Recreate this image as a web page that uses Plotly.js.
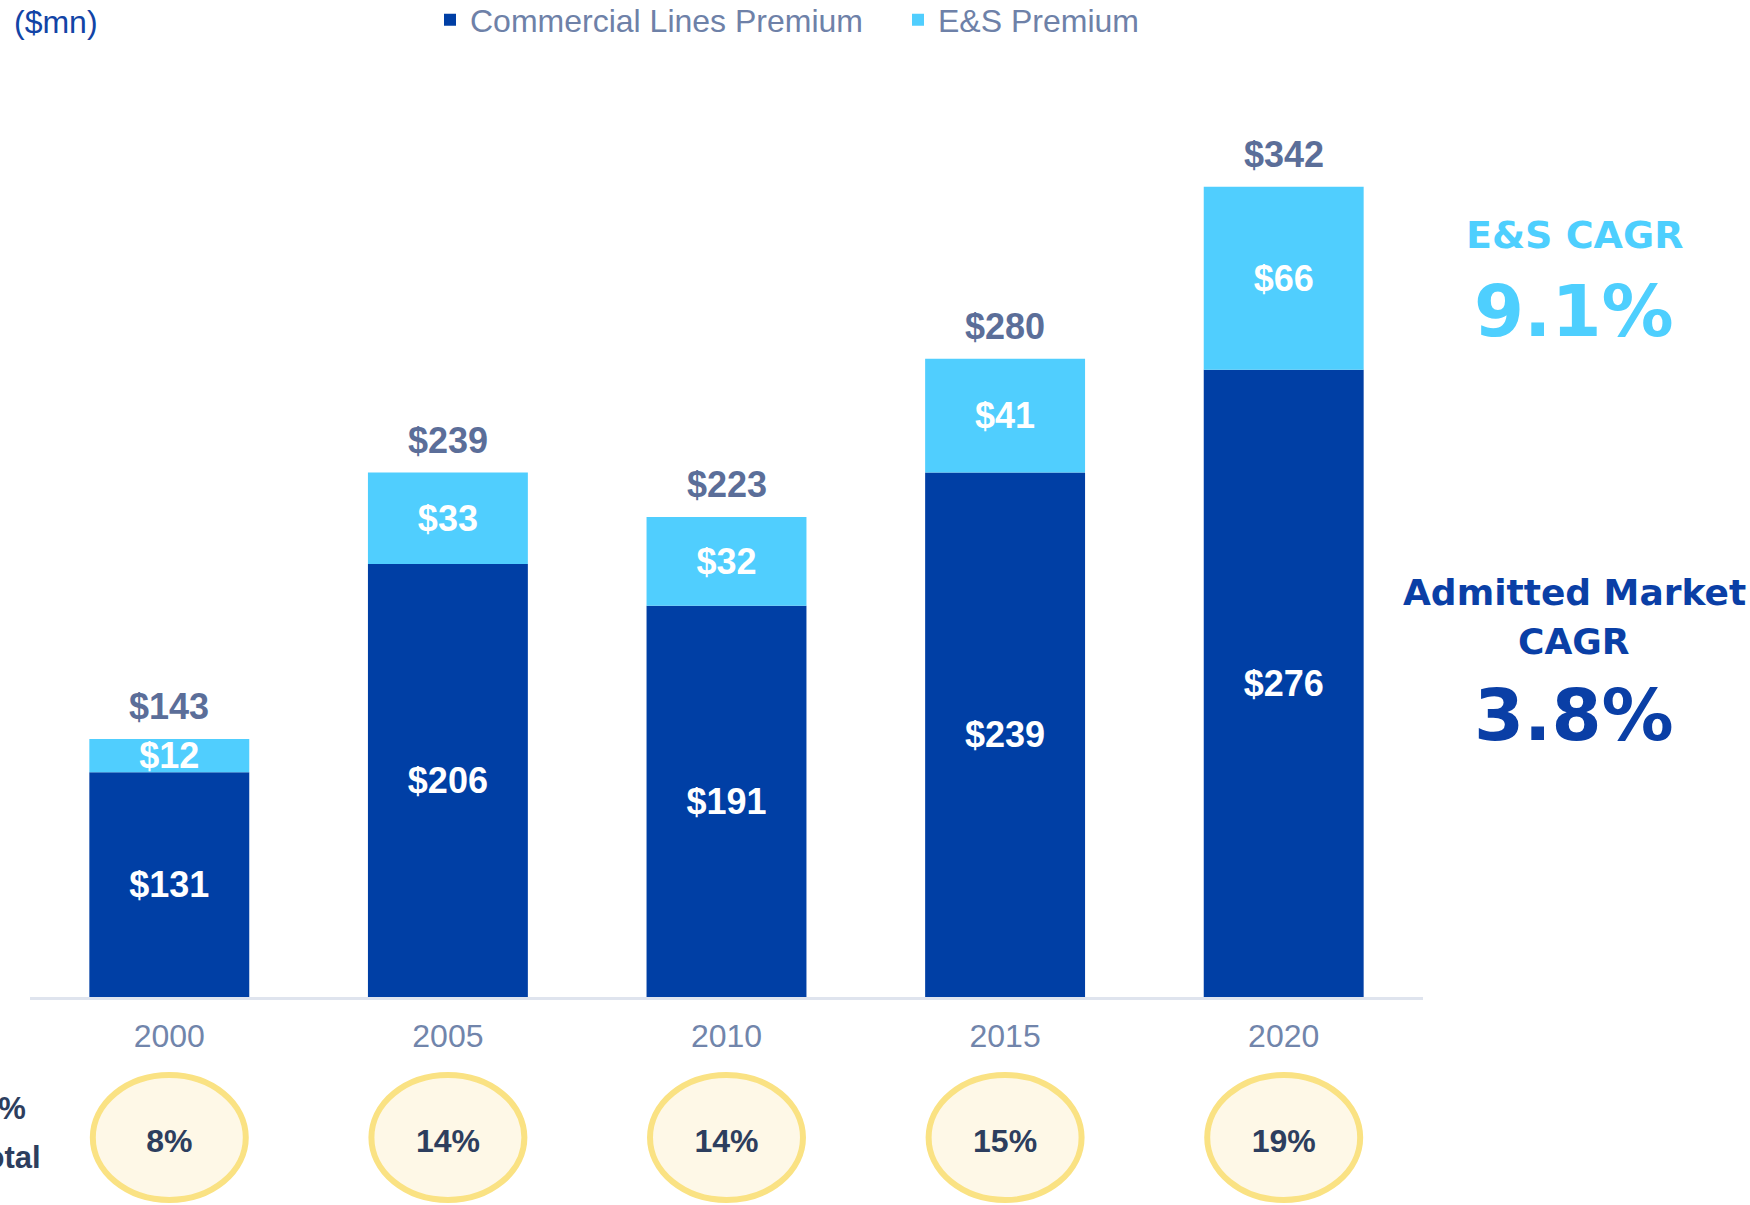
<!DOCTYPE html>
<html>
<head>
<meta charset="utf-8">
<script src="https://cdn.plot.ly/plotly-3.0.1.min.js"></script>
<style>
  html, body { margin: 0; padding: 0; background: #ffffff; }
  #chart { width: 1750px; height: 1205px; }
</style>
</head>
<body>
<div id="chart"></div>
<script>
// ---- data ----
const years = ['2000', '2005', '2010', '2015', '2020'];
const commercialPremium = [131, 206, 191, 239, 276];
const esPremium = [12, 33, 32, 41, 66];
const totalPremium = [143, 239, 223, 280, 342];
const esShareOfTotal = ['8%', '14%', '14%', '15%', '19%'];
const axisMin = 50;
const esCagr = '9.1%';
const admittedCagr = '3.8%';

// ---- styling ----
const DARK = '#003fa5';
const LIGHT = '#50cefe';
const BASE_FONT = 'Arial, "Liberation Sans", sans-serif';
const HEAVY_FONT = '"DejaVu Sans", "Arial Black", sans-serif';

// layout geometry (pixels)
const W = 1750, H = 1205;
const M = { l: 30, r: 327, t: 100, b: 208 };
const plotH = H - M.t - M.b;
const plotW = W - M.l - M.r;
const pxPerUnit = 2.775;
const yTop = axisMin + plotH / pxPerUnit;
const py = p => (H - M.b - p) / plotH;          // pixel y -> paper y
const px = p => (p - M.l) / plotW;              // pixel x -> paper x

const traces = [
  {
    type: 'bar',
    name: 'Commercial Lines Premium',
    x: years,
    y: commercialPremium.map(v => v - axisMin),
    base: axisMin,
    marker: { color: DARK, line: { width: 0 } },
    text: commercialPremium.map(v => '$' + v),
    textposition: 'inside',
    insidetextanchor: 'middle',
    constraintext: 'none',
    textfont: { family: BASE_FONT, size: 36, color: '#ffffff', weight: 700 },
    hoverinfo: 'skip'
  },
  {
    type: 'bar',
    name: 'E&S Premium',
    x: years,
    y: esPremium,
    base: commercialPremium,
    marker: { color: LIGHT, line: { width: 0 } },
    text: esPremium.map(v => '$' + v),
    textposition: 'inside',
    insidetextanchor: 'middle',
    constraintext: 'none',
    textfont: { family: BASE_FONT, size: 36, color: '#ffffff', weight: 700 },
    hoverinfo: 'skip'
  }
];

const annotations = [];
// totals above bars (x given as category index)
years.forEach((yr, i) => {
  annotations.push({
    x: i, y: totalPremium[i], xref: 'x', yref: 'y',
    text: '$' + totalPremium[i], showarrow: false,
    yanchor: 'middle', yshift: 32,
    font: { family: BASE_FONT, size: 36, color: '#5b6e99', weight: 700 }
  });
});
// unit label
annotations.push({
  xref: 'paper', yref: 'paper', x: px(12), y: py(22), xanchor: 'left', yanchor: 'middle',
  text: '($mn)', showarrow: false,
  font: { family: BASE_FONT, size: 32, color: '#1244a6' }
});
// left row label (partly off canvas, as in the reference)
annotations.push({
  xref: 'paper', yref: 'paper', x: px(28), y: py(1108), xanchor: 'right', yanchor: 'middle',
  text: 'E&S %', showarrow: false, align: 'left',
  font: { family: BASE_FONT, size: 31, color: '#2d3e5e', weight: 700 }
});
annotations.push({
  xref: 'paper', yref: 'paper', x: px(43), y: py(1157), xanchor: 'right', yanchor: 'middle',
  text: 'of Total', showarrow: false, align: 'left',
  font: { family: BASE_FONT, size: 31, color: '#2d3e5e', weight: 700 }
});
// right CAGR call-outs
const cx = px(1574);
annotations.push({
  xref: 'paper', yref: 'paper', x: cx, y: py(235), xanchor: 'center', yanchor: 'middle',
  text: 'E&S CAGR', showarrow: false,
  font: { family: HEAVY_FONT, size: 38, color: '#4ecffe', weight: 700 }
});
annotations.push({
  xref: 'paper', yref: 'paper', x: cx, y: py(311), xanchor: 'center', yanchor: 'middle',
  text: esCagr, showarrow: false,
  font: { family: HEAVY_FONT, size: 72, color: '#4ecffe', weight: 700 }
});
annotations.push({
  xref: 'paper', yref: 'paper', x: cx, y: py(592), xanchor: 'center', yanchor: 'middle',
  text: 'Admitted Market', showarrow: false,
  font: { family: HEAVY_FONT, size: 36, color: '#0a3fa6', weight: 700 }
});
annotations.push({
  xref: 'paper', yref: 'paper', x: cx, y: py(641), xanchor: 'center', yanchor: 'middle',
  text: 'CAGR', showarrow: false,
  font: { family: HEAVY_FONT, size: 36, color: '#0a3fa6', weight: 700 }
});
annotations.push({
  xref: 'paper', yref: 'paper', x: cx, y: py(715), xanchor: 'center', yanchor: 'middle',
  text: admittedCagr, showarrow: false,
  font: { family: HEAVY_FONT, size: 72, color: '#0a3fa6', weight: 700 }
});

// ellipses with share of total
const halfW = 0.2745;
const shapes = years.map((yr, i) => ({
  type: 'circle', xref: 'x', yref: 'paper',
  x0: i - halfW, x1: i + halfW,
  y0: py(1200), y1: py(1075),
  line: { color: '#fae283', width: 6 },
  fillcolor: '#fef8e7',
  label: {
    text: esShareOfTotal[i],
    textposition: 'middle center',
    font: { family: BASE_FONT, size: 32, color: '#2d3e5e', weight: 700 }
  }
}));

const layout = {
  width: W, height: H,
  margin: M,
  paper_bgcolor: '#ffffff',
  plot_bgcolor: '#ffffff',
  barmode: 'overlay',
  bargap: 0.426,
  showlegend: true,
  legend: {
    orientation: 'h',
    xref: 'container', yref: 'container',
    x: 430 / W, xanchor: 'left',
    y: 1 - 20 / H, yanchor: 'middle',
    entrywidth: 423,
    font: { family: BASE_FONT, size: 32, color: '#6e81a8' },
    bgcolor: 'rgba(0,0,0,0)'
  },
  xaxis: {
    type: 'category',
    range: [-0.5, years.length - 0.5],
    showline: true, linecolor: '#dfe4ee', linewidth: 2.5,
    showgrid: false, zeroline: false, ticks: '',
    ticklabelstandoff: 9,
    tickfont: { family: BASE_FONT, size: 32, color: '#7185ab' },
    fixedrange: true
  },
  yaxis: {
    range: [axisMin, yTop],
    visible: false, showgrid: false, zeroline: false,
    fixedrange: true
  },
  annotations: annotations,
  shapes: shapes
};

Plotly.newPlot('chart', traces, layout, { displayModeBar: false, staticPlot: true });
</script>
</body>
</html>
